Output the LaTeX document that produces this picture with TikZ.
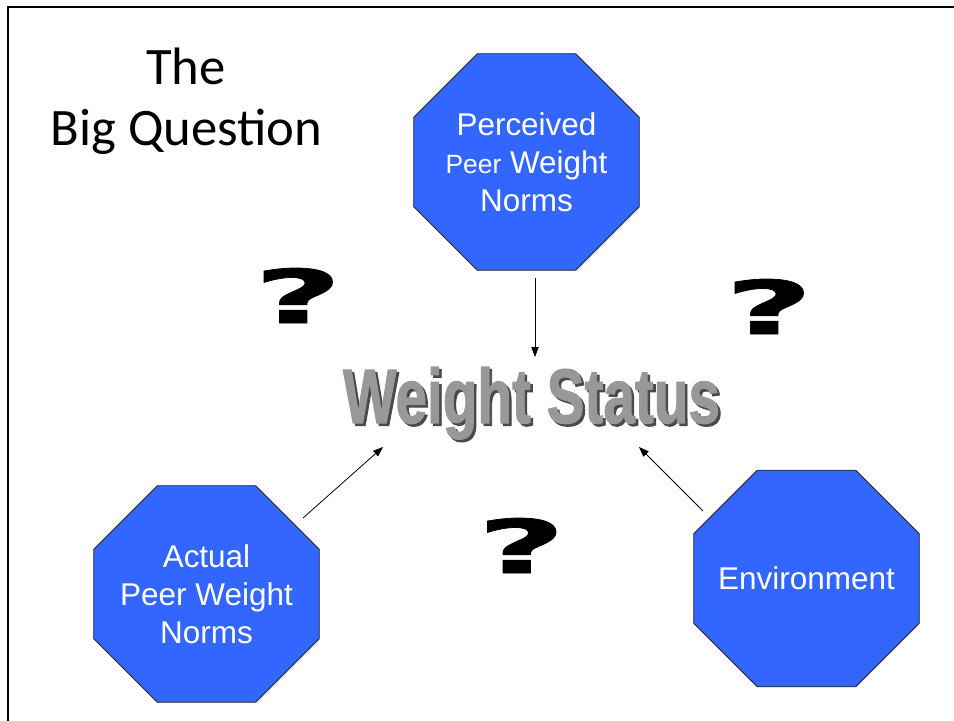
\documentclass[tikz,border=0pt]{standalone}
\usepackage{fontspec}
\setmainfont{Liberation Sans}
\newfontfamily\titlefont{Carlito}
\newfontfamily\heavy[BoldFeatures={FakeBold=1.5}]{Liberation Sans}
\newfontfamily\qfont[BoldFeatures={FakeBold=1}]{DejaVu Sans}
\usetikzlibrary{calc,arrows.meta,backgrounds}
\definecolor{octblue}{HTML}{3366FF}
\definecolor{wsgray}{HTML}{989898}
\definecolor{wsshadow}{HTML}{4A4A4A}
\newcommand{\octpath}[1]{%
  \filldraw[octfill] ($(#1.north west)+(63.5,0)$) -- ($(#1.north east)+(-63.5,0)$)
    -- ($(#1.north east)+(0,63.5)$) -- ($(#1.south east)+(0,-63.5)$)
    -- ($(#1.south east)+(-63.5,0)$) -- ($(#1.south west)+(63.5,0)$)
    -- ($(#1.south west)+(0,-63.5)$) -- ($(#1.north west)+(0,63.5)$) -- cycle;}
\newcommand{\wstext}{\resizebox{282.75pt}{42pt}{\heavy\bfseries Weight Status}}
\begin{document}
\begin{tikzpicture}[x=0.75pt,y=-0.75pt,
  octbox/.style={minimum width=168.75pt,minimum height=162pt,inner sep=0pt,
    text=white,align=center,font=\fontsize{23.6}{28.5}\selectfont},
  octfill/.style={fill=octblue,draw=black!85,line width=0.6pt},
  link/.style={line width=0.6pt,-{Triangle[length=7.5pt,width=5.5pt]}},
  qmark/.style={inner sep=0pt,anchor=center},
  titletext/.style={inner sep=0pt,anchor=base,font=\titlefont\fontsize{39.5}{45.75}\selectfont},
  frame/.style={line width=1.5pt,black}]
\useasboundingbox (0,0) rectangle (954,721);

% octagon nodes
\node[octbox] (perc) at (526.5,162) {Perceived\\{\fontsize{19.8}{28.5}\selectfont Peer} Weight\\Norms};
\node[octbox] (actual) at (206.5,594) {Actual\\Peer Weight\\Norms};
\node[octbox] (env) at (806.5,578.5) {Environment};

\begin{scope}[on background layer]
  \fill[white] (0,0) rectangle (954,721);
  \octpath{perc}
  \octpath{actual}
  \octpath{env}
\end{scope}

% title
\node[titletext] (title1) at (186,84) {The};
\node[titletext] (title2) at (186.5,145) {Big Question};

% central label with its shadow, in one node
\node[inner sep=0pt,anchor=base] (ws) at (531.5,423)
  {\makebox[0pt][l]{\hspace{1.9pt}\raisebox{-1.9pt}{\color{wsshadow}\wstext}}\color{wsgray}\wstext};

% question marks
\node[qmark] (q1) at (298,295.5) {\resizebox{66pt}{41.25pt}{\qfont\bfseries ?}};
\node[qmark] (q2) at (769,306.5) {\resizebox{66pt}{41.25pt}{\qfont\bfseries ?}};
\node[qmark] (q3) at (521.5,545.5) {\resizebox{66pt}{41.25pt}{\qfont\bfseries ?}};

% connectors
\coordinate (percout) at (535,278);
\coordinate (percin) at (535,357);
\coordinate (actout) at (303,518);
\coordinate (actin) at (383,447);
\coordinate (envout) at (703,511);
\coordinate (envin) at (639,447);
\draw[link] (percout) -- (percin);
\draw[link] (actout) -- (actin);
\draw[link] (envout) -- (envin);

% frame
\draw[frame] (8,721) -- (8,7) -- (954,7);
\end{tikzpicture}
\end{document}
